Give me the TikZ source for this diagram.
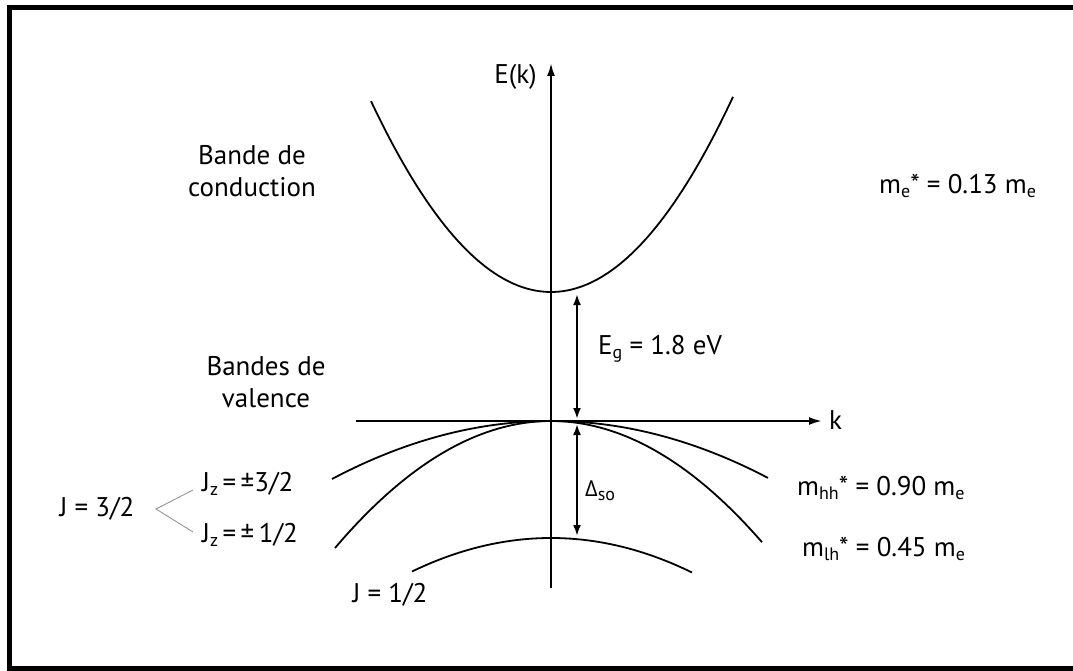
\documentclass[tikz,border=0pt]{standalone}
\usepackage{fontspec}
\setmainfont{PT Sans}
\newfontfamily\grk{Open Sans}
\usetikzlibrary{arrows.meta,calc}
\newcommand{\sbs}[1]{\raisebox{-0.3ex}{\fontsize{18}{18}\selectfont #1}}
\newcommand{\st}{\raisebox{0.05ex}{*}}
\begin{document}
\begin{tikzpicture}[x=1pt,y=-1pt,
  font=\fontsize{27}{32}\selectfont,
  axis/.style={line width=2.2pt,-{Latex[length=13pt,width=8pt]}},
  band/.style={line width=1.8pt},
  gaparrow/.style={line width=2.2pt,{Latex[length=11pt,width=8pt]}-{Latex[length=11pt,width=8pt]}},
  lbl/.style={inner sep=0pt,align=center},
  brace/.style={line width=0.8pt,draw=black!45}]
\useasboundingbox (0,0) rectangle (1073,671);
\draw[line width=5pt] (9,7.5) rectangle (1090,668.5);
% axes
\coordinate (ybot) at (551,588);
\coordinate (ytop) at (551,63);
\coordinate (xl) at (356,421);
\coordinate (xr) at (822,421);
\draw[axis] (ybot) -- (ytop);
\draw[axis] (xl) -- (xr);
\node[lbl,anchor=east] (Ek) at (537,77) {E(k)};
\node[lbl,anchor=west] (k) at (829,420) {k};
% bands
\draw[band] plot[domain=-180:182,samples=80] ({551+\x},{292-193*(\x/181)^2});
\draw[band] plot[domain=-219:217,samples=80] ({551+\x},{421+58*(\x/219)^2});
\draw[band] plot[domain=-216:211,samples=80] ({551+\x},{421+127*(\x/216)^2});
\draw[band] plot[domain=-139:141,samples=80] ({551+\x},{538+34*(\x/140)^2});
% gap arrows
\coordinate (cb) at (577,294);
\coordinate (vb) at (577,419);
\coordinate (vb2) at (577,424);
\coordinate (so) at (577,536);
\draw[gaparrow] (cb) -- (vb);
\draw[gaparrow] (vb2) -- (so);
\node[lbl,anchor=west] (Eg) at (598,349) {E\sbs{g} = 1.8 eV};
\node[lbl,anchor=west] (dso) at (585,491) {{\grk\fontsize{22}{22}\selectfont Δ}\sbs{so}};
% labels
\node[lbl] (bc) at (252,171) {Bande de\\conduction};
\node[lbl] (bv) at (266,382) {Bandes de\\valence};
\node[lbl,anchor=west] (me) at (879,186) {m\sbs{e}\st{} = 0.13 m\sbs{e}};
\node[lbl,anchor=west] (mhh) at (797,488) {m\sbs{hh}\st{} = 0.90 m\sbs{e}};
\node[lbl,anchor=west] (mlh) at (802,549) {m\sbs{lh}\st{} = 0.45 m\sbs{e}};
\node[lbl] (J32) at (97,509) {J = 3/2};
\node[lbl,anchor=west] (jz3) at (202,484) {J\sbs{z}\,=\,±3/2};
\node[lbl,anchor=west] (jz1) at (202,535) {J\sbs{z}\,=\,±\,1/2};
\node[lbl] (J12) at (390,595) {J = 1/2};
\coordinate (br) at (156,509);
\draw[brace] ($(jz3.west)+(-9,6)$) -- (br) -- ($(jz1.west)+(-9,-3)$);
\end{tikzpicture}
\end{document}
